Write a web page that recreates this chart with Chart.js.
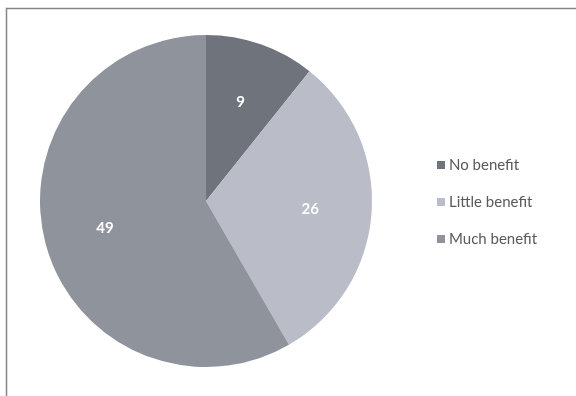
<!DOCTYPE html>
<html>
<head>
<meta charset="utf-8">
<script src="https://cdn.jsdelivr.net/npm/chart.js@4"></script>
<style>
    html, body { margin: 0; padding: 0; background: #fff; }
    #wrap { width: 576px; height: 396px; position: relative; }
</style>
</head>
<body>
<div id="wrap"><canvas id="pieChart"></canvas></div>
<script>
var labels = ['No benefit', 'Little benefit', 'Much benefit'];
var values = [9, 26, 49];
var colors = ['#6f747c', '#babcc7', '#8f949c'];

// frame around the whole picture (only top and left edges are visible)
var framePlugin = {
    id: 'frame',
    beforeDraw: function (chart) {
        var ctx = chart.ctx;
        ctx.save();
        ctx.strokeStyle = '#858585';
        ctx.lineWidth = 1.5;
        ctx.strokeRect(6.5, 8.5, 700, 500);
        ctx.restore();
    }
};

// white numbers inside the slices
var valueLabels = {
    id: 'valueLabels',
    afterDatasetsDraw: function (chart) {
        var ctx = chart.ctx;
        var meta = chart.getDatasetMeta(0);
        ctx.save();
        ctx.fillStyle = '#ffffff';
        ctx.font = 'bold 15px Lato, "Open Sans", sans-serif';
        ctx.textAlign = 'center';
        ctx.textBaseline = 'middle';
        meta.data.forEach(function (arc, i) {
            var p = arc.getProps(['x', 'y', 'startAngle', 'endAngle', 'outerRadius'], true);
            var mid = (p.startAngle + p.endAngle) / 2;
            var r = p.outerRadius * 0.63;
            ctx.fillText(String(values[i]), p.x + Math.cos(mid) * r, p.y + Math.sin(mid) * r);
        });
        ctx.restore();
    }
};

// legend on the right side
var sideLegend = {
    id: 'sideLegend',
    afterDraw: function (chart) {
        var ctx = chart.ctx;
        var area = chart.chartArea;
        var x = area.right + 65;
        var cy = (area.top + area.bottom) / 2 + 1;
        var step = 37;
        ctx.save();
        ctx.font = '15px Lato, "Open Sans", sans-serif';
        ctx.textBaseline = 'middle';
        labels.forEach(function (label, i) {
            var y = cy + (i - 1) * step;
            ctx.fillStyle = colors[i];
            ctx.fillRect(x, y - 4, 8, 8);
            ctx.fillStyle = '#595959';
            ctx.fillText(label, x + 12, y);
        });
        ctx.restore();
    }
};

var ctx = document.getElementById('pieChart').getContext('2d');
var pieChart = new Chart(ctx, {
    type: 'pie',
    data: {
        labels: labels,
        datasets: [{
            data: values,
            backgroundColor: colors,
            borderWidth: 0
        }]
    },
    options: {
        responsive: true,
        maintainAspectRatio: false,
        animation: false,
        layout: {
            padding: { left: 40, top: 34, right: 204, bottom: 28 }
        },
        plugins: {
            legend: { display: false },
            tooltip: { enabled: false }
        }
    },
    plugins: [framePlugin, valueLabels, sideLegend]
});
</script>
</body>
</html>
